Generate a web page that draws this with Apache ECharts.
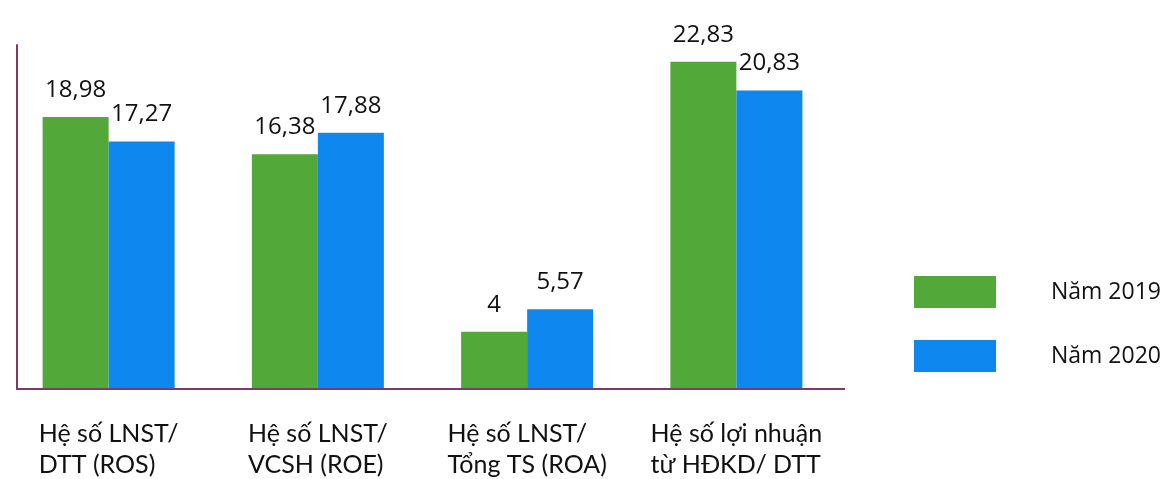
<!DOCTYPE html>
<html>
<head>
<meta charset="utf-8">
<script src="https://cdn.jsdelivr.net/npm/echarts@6/dist/echarts.min.js"></script>
<style>
html,body{margin:0;padding:0;background:#fff;}
#chart{width:1176px;height:479px;}
</style>
</head>
<body>
<div id="chart"></div>
<script>
const categories = ['Hệ số LNST/\nDTT (ROS)', 'Hệ số LNST/\nVCSH (ROE)', 'Hệ số LNST/\nTổng TS (ROA)', 'Hệ số lợi nhuận\ntừ HĐKD/ DTT'];
const seriesNames = ['Năm 2019', 'Năm 2020'];
const values2019 = [18.98, 16.38, 4, 22.83];
const values2020 = [17.27, 17.88, 5.57, 20.83];

const GREEN = '#52A93A';
const BLUE = '#0E87EE';
const AXIS = '#7B3B6F';
const numFont = '"Open Sans", sans-serif';
const catFont = 'Lato, "Open Sans", sans-serif';

const fmt = p => String(p.value).replace('.', ',');

const chart = echarts.init(document.getElementById('chart'));
chart.setOption({
  animation: false,
  backgroundColor: '#fff',
  grid: { left: 4, right: 335, top: 45, bottom: 90 },
  legend: {
    orient: 'vertical',
    left: 914, top: 276, padding: 0,
    itemWidth: 82, itemHeight: 32, itemGap: 32,
    icon: 'rect',
    data: seriesNames,
    textStyle: { fontFamily: numFont, fontSize: 23, color: '#111', padding: [0, 0, 0, 50] }
  },
  xAxis: {
    type: 'category',
    data: categories,
    axisLine: { show: false },
    axisTick: { show: false },
    axisLabel: {
      interval: 0,
      margin: 29,
      formatter: v => v.split('\n').map(s => '{a|' + s + '}').join('\n'),
      rich: { a: { fontFamily: catFont, fontSize: 25, lineHeight: 31, color: '#111', align: 'left' } }
    }
  },
  yAxis: {
    type: 'value',
    min: 0, max: 24,
    offset: -13,
    axisLine: { show: true, lineStyle: { color: AXIS, width: 2 } },
    axisTick: { show: false },
    axisLabel: { show: false },
    splitLine: { show: false }
  },
  graphic: [{
    type: 'line',
    shape: { x1: 16, y1: 389, x2: 845, y2: 389 },
    style: { stroke: AXIS, lineWidth: 2 },
    z: 10
  }],
  series: [
    {
      name: seriesNames[0], type: 'bar', data: values2019,
      barWidth: 66, barGap: '0%',
      itemStyle: { color: GREEN },
      label: { show: true, position: 'top', distance: 15, formatter: fmt, fontFamily: numFont, fontSize: 24, color: '#111' }
    },
    {
      name: seriesNames[1], type: 'bar', data: values2020,
      barWidth: 66, barGap: '0%',
      itemStyle: { color: BLUE },
      label: { show: true, position: 'top', distance: 15, formatter: fmt, fontFamily: numFont, fontSize: 24, color: '#111' }
    }
  ]
});
</script>
</body>
</html>
